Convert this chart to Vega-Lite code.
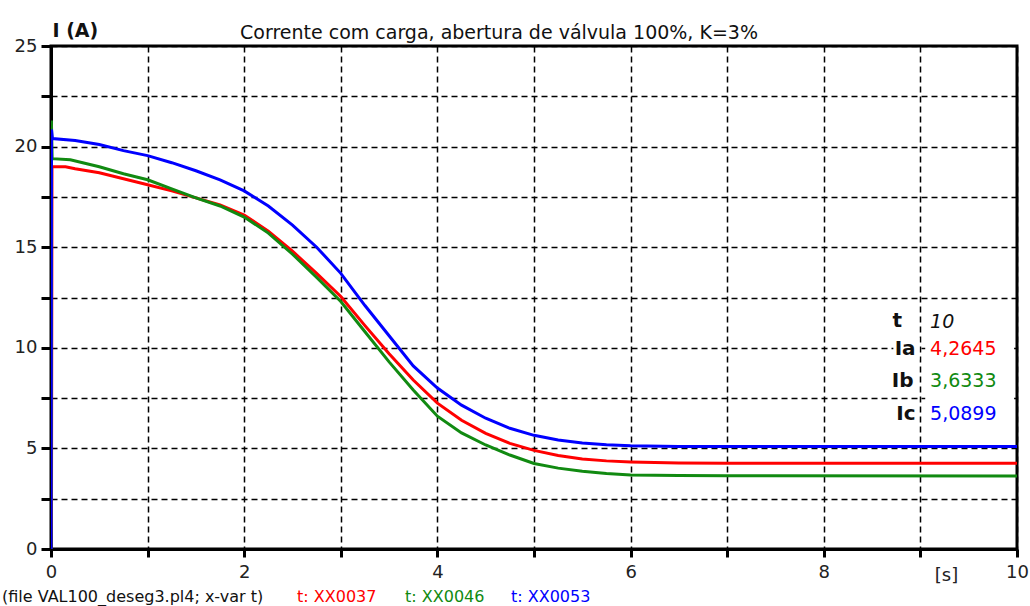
{
  "$schema": "https://vega.github.io/schema/vega-lite/v6.json",
  "width": 966,
  "height": 503,
  "autosize": {"type": "none"},
  "padding": {"left": 51, "top": 46, "right": 13, "bottom": 57},
  "background": "white",
  "config": {
    "font": "DejaVu Sans",
    "view": {"stroke": "black", "strokeWidth": 3}
  },
  "title": {
    "text": "Corrente com carga, abertura de válvula 100%, K=3%",
    "anchor": "middle",
    "frame": "group",
    "dx": -35,
    "offset": -22,
    "fontSize": 19,
    "fontWeight": "normal",
    "color": "#111111",
    "font": "DejaVu Sans"
  },
  "datasets": {
    "curves": [
      {"t": 0, "I": 0, "series": "Ia"},
      {"t": 0.005, "I": 1.4, "series": "Ia"},
      {"t": 0.01, "I": 19.0, "series": "Ia"},
      {"t": 0.15, "I": 19.0, "series": "Ia"},
      {"t": 0.25, "I": 18.9, "series": "Ia"},
      {"t": 0.5, "I": 18.7, "series": "Ia"},
      {"t": 0.75, "I": 18.4, "series": "Ia"},
      {"t": 1, "I": 18.1, "series": "Ia"},
      {"t": 1.25, "I": 17.8, "series": "Ia"},
      {"t": 1.5, "I": 17.45, "series": "Ia"},
      {"t": 1.75, "I": 17.1, "series": "Ia"},
      {"t": 2, "I": 16.6, "series": "Ia"},
      {"t": 2.25, "I": 15.8, "series": "Ia"},
      {"t": 2.5, "I": 14.8, "series": "Ia"},
      {"t": 2.75, "I": 13.7, "series": "Ia"},
      {"t": 3, "I": 12.55, "series": "Ia"},
      {"t": 3.25, "I": 11.1, "series": "Ia"},
      {"t": 3.5, "I": 9.7, "series": "Ia"},
      {"t": 3.75, "I": 8.4, "series": "Ia"},
      {"t": 4, "I": 7.25, "series": "Ia"},
      {"t": 4.25, "I": 6.4, "series": "Ia"},
      {"t": 4.5, "I": 5.75, "series": "Ia"},
      {"t": 4.75, "I": 5.25, "series": "Ia"},
      {"t": 5, "I": 4.9, "series": "Ia"},
      {"t": 5.25, "I": 4.65, "series": "Ia"},
      {"t": 5.5, "I": 4.47, "series": "Ia"},
      {"t": 5.75, "I": 4.38, "series": "Ia"},
      {"t": 6, "I": 4.33, "series": "Ia"},
      {"t": 6.5, "I": 4.28, "series": "Ia"},
      {"t": 7, "I": 4.265, "series": "Ia"},
      {"t": 10, "I": 4.2645, "series": "Ia"},
      {"t": 0, "I": 0, "series": "Ib"},
      {"t": 0.004, "I": 21.3, "series": "Ib"},
      {"t": 0.012, "I": 19.4, "series": "Ib"},
      {"t": 0.2, "I": 19.35, "series": "Ib"},
      {"t": 0.5, "I": 19.0, "series": "Ib"},
      {"t": 0.75, "I": 18.65, "series": "Ib"},
      {"t": 1, "I": 18.35, "series": "Ib"},
      {"t": 1.25, "I": 17.9, "series": "Ib"},
      {"t": 1.5, "I": 17.45, "series": "Ib"},
      {"t": 1.75, "I": 17.05, "series": "Ib"},
      {"t": 2, "I": 16.5, "series": "Ib"},
      {"t": 2.25, "I": 15.7, "series": "Ib"},
      {"t": 2.5, "I": 14.65, "series": "Ib"},
      {"t": 2.75, "I": 13.5, "series": "Ib"},
      {"t": 3, "I": 12.3, "series": "Ib"},
      {"t": 3.25, "I": 10.8, "series": "Ib"},
      {"t": 3.5, "I": 9.3, "series": "Ib"},
      {"t": 3.75, "I": 7.9, "series": "Ib"},
      {"t": 4, "I": 6.6, "series": "Ib"},
      {"t": 4.25, "I": 5.77, "series": "Ib"},
      {"t": 4.5, "I": 5.17, "series": "Ib"},
      {"t": 4.75, "I": 4.67, "series": "Ib"},
      {"t": 5, "I": 4.25, "series": "Ib"},
      {"t": 5.25, "I": 4.02, "series": "Ib"},
      {"t": 5.5, "I": 3.87, "series": "Ib"},
      {"t": 5.75, "I": 3.75, "series": "Ib"},
      {"t": 6, "I": 3.68, "series": "Ib"},
      {"t": 6.5, "I": 3.65, "series": "Ib"},
      {"t": 7, "I": 3.635, "series": "Ib"},
      {"t": 10, "I": 3.6333, "series": "Ib"},
      {"t": 0, "I": 0, "series": "Ic"},
      {"t": 0.005, "I": 20.85, "series": "Ic"},
      {"t": 0.015, "I": 20.4, "series": "Ic"},
      {"t": 0.25, "I": 20.3, "series": "Ic"},
      {"t": 0.5, "I": 20.1, "series": "Ic"},
      {"t": 0.75, "I": 19.8, "series": "Ic"},
      {"t": 1, "I": 19.55, "series": "Ic"},
      {"t": 1.25, "I": 19.2, "series": "Ic"},
      {"t": 1.5, "I": 18.8, "series": "Ic"},
      {"t": 1.75, "I": 18.35, "series": "Ic"},
      {"t": 2, "I": 17.8, "series": "Ic"},
      {"t": 2.25, "I": 17.05, "series": "Ic"},
      {"t": 2.5, "I": 16.1, "series": "Ic"},
      {"t": 2.75, "I": 15.0, "series": "Ic"},
      {"t": 3, "I": 13.7, "series": "Ic"},
      {"t": 3.25, "I": 12.1, "series": "Ic"},
      {"t": 3.5, "I": 10.6, "series": "Ic"},
      {"t": 3.75, "I": 9.1, "series": "Ic"},
      {"t": 4, "I": 8.0, "series": "Ic"},
      {"t": 4.25, "I": 7.15, "series": "Ic"},
      {"t": 4.5, "I": 6.5, "series": "Ic"},
      {"t": 4.75, "I": 6.0, "series": "Ic"},
      {"t": 5, "I": 5.65, "series": "Ic"},
      {"t": 5.25, "I": 5.42, "series": "Ic"},
      {"t": 5.5, "I": 5.27, "series": "Ic"},
      {"t": 5.75, "I": 5.18, "series": "Ic"},
      {"t": 6, "I": 5.13, "series": "Ic"},
      {"t": 6.5, "I": 5.1, "series": "Ic"},
      {"t": 7, "I": 5.09, "series": "Ic"},
      {"t": 10, "I": 5.0899, "series": "Ic"}
    ],
    "names": [
      {"t": 8.81, "I": 11.33, "text": "t"},
      {"t": 8.95, "I": 9.94, "text": "Ia"},
      {"t": 8.93, "I": 8.35, "text": "Ib"},
      {"t": 8.95, "I": 6.71, "text": "Ic"}
    ],
    "readout": [
      {"t": 9.1, "I": 11.3, "text": "10", "series": "t"},
      {"t": 9.1, "I": 9.94, "text": "4,2645", "series": "Ia"},
      {"t": 9.1, "I": 8.35, "text": "3,6333", "series": "Ib"},
      {"t": 9.1, "I": 6.71, "text": "5,0899", "series": "Ic"}
    ],
    "boxes": [
      {"t": 9.05, "t2": 9.97, "I": 6.0, "I2": 12.1},
      {"t": 8.72, "t2": 8.99, "I": 9.4, "I2": 10.5}
    ],
    "footer": [
      {"t": -0.507, "I": -2.39, "text": "(file VAL100_deseg3.pl4; x-var t)", "series": "file"},
      {"t": 2.547, "I": -2.39, "text": "t: XX0037", "series": "Ia"},
      {"t": 3.665, "I": -2.39, "text": "t: XX0046", "series": "Ib"},
      {"t": 4.762, "I": -2.39, "text": "t: XX0053", "series": "Ic"}
    ]
  },
  "layer": [
    {
      "data": {"name": "curves"},
      "mark": {"type": "line", "strokeWidth": 3, "interpolate": "linear", "clip": true},
      "encoding": {
        "x": {
          "field": "t",
          "type": "quantitative",
          "scale": {"domain": [0, 10], "nice": false, "zero": false},
          "axis": {
            "values": [0, 1, 2, 3, 4, 5, 6, 7, 8, 9, 10],
            "format": "d",
            "labelExpr": "datum.value % 2 == 0 ? datum.label : ''",
            "grid": true,
            "gridColor": "black",
            "gridDash": [6, 4],
            "gridWidth": 1.5,
            "gridOpacity": 1,
            "domain": true,
            "domainColor": "black",
            "domainWidth": 3,
            "ticks": true,
            "tickColor": "black",
            "tickSize": 8,
            "tickWidth": 3,
            "labelFontSize": 18,
            "labelColor": "#222222",
            "labelPadding": 6,
            "labelFont": "DejaVu Sans",
            "labelFlush": false,
            "labelOverlap": false,
            "title": "[s]",
            "titleFont": "DejaVu Sans",
            "titleFontSize": 18,
            "titleFontWeight": "normal",
            "titleColor": "#222222",
            "titleX": 895,
            "titleY": 26,
            "titleAlign": "center",
            "titleBaseline": "middle"
          }
        },
        "y": {
          "field": "I",
          "type": "quantitative",
          "scale": {"domain": [0, 25], "nice": false},
          "axis": {
            "values": [0, 2.5, 5, 7.5, 10, 12.5, 15, 17.5, 20, 22.5, 25],
            "labelExpr": "datum.value % 5 == 0 ? datum.label : ''",
            "grid": true,
            "gridColor": "black",
            "gridDash": [6, 4],
            "gridWidth": 1.5,
            "gridOpacity": 1,
            "domain": true,
            "domainColor": "black",
            "domainWidth": 3,
            "ticks": true,
            "tickColor": "black",
            "tickSize": 10,
            "tickWidth": 3,
            "labelFontSize": 18,
            "labelColor": "#222222",
            "labelPadding": 4,
            "labelFont": "DejaVu Sans",
            "labelFlush": false,
            "labelOverlap": false,
            "title": "I (A)",
            "titleFont": "DejaVu Sans",
            "titleFontSize": 19,
            "titleFontWeight": "bold",
            "titleColor": "#111111",
            "titleAngle": 0,
            "titleAlign": "left",
            "titleBaseline": "middle",
            "titleX": 1,
            "titleY": -16
          }
        },
        "color": {
          "field": "series",
          "type": "nominal",
          "scale": {
            "domain": ["Ia", "Ib", "Ic", "t", "file"],
            "range": ["#ff0000", "#118a11", "#0000ff", "#111111", "#111111"]
          },
          "legend": null
        }
      }
    },
    {
      "data": {"name": "boxes"},
      "mark": {"type": "rect", "color": "white"},
      "encoding": {
        "x": {"field": "t", "type": "quantitative"},
        "x2": {"field": "t2"},
        "y": {"field": "I", "type": "quantitative"},
        "y2": {"field": "I2"}
      }
    },
    {
      "data": {"name": "names"},
      "mark": {"type": "text", "align": "right", "baseline": "middle", "fontSize": 20, "fontWeight": "bold", "color": "#111111", "font": "DejaVu Sans"},
      "encoding": {
        "x": {"field": "t", "type": "quantitative"},
        "y": {"field": "I", "type": "quantitative"},
        "text": {"field": "text"}
      }
    },
    {
      "data": {"name": "readout"},
      "transform": [{"filter": "datum.series != 't'"}],
      "mark": {"type": "text", "align": "left", "baseline": "middle", "fontSize": 19, "font": "DejaVu Sans"},
      "encoding": {
        "x": {"field": "t", "type": "quantitative"},
        "y": {"field": "I", "type": "quantitative"},
        "text": {"field": "text"},
        "color": {"field": "series", "type": "nominal", "legend": null}
      }
    },
    {
      "data": {"name": "readout"},
      "transform": [{"filter": "datum.series == 't'"}],
      "mark": {"type": "text", "align": "left", "baseline": "middle", "fontSize": 19, "fontStyle": "italic", "font": "DejaVu Sans"},
      "encoding": {
        "x": {"field": "t", "type": "quantitative"},
        "y": {"field": "I", "type": "quantitative"},
        "text": {"field": "text"},
        "color": {"field": "series", "type": "nominal", "legend": null}
      }
    },
    {
      "data": {"name": "footer"},
      "mark": {"type": "text", "align": "left", "baseline": "middle", "fontSize": 16, "font": "DejaVu Sans"},
      "encoding": {
        "x": {"field": "t", "type": "quantitative"},
        "y": {"field": "I", "type": "quantitative"},
        "text": {"field": "text"},
        "color": {"field": "series", "type": "nominal", "legend": null}
      }
    }
  ]
}
